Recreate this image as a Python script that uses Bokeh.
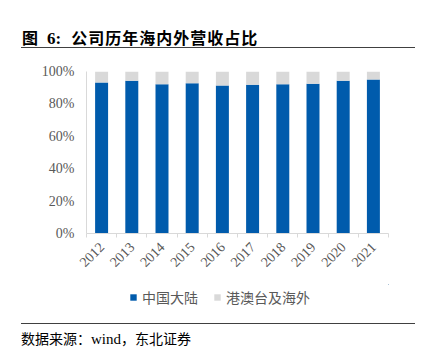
from bokeh.plotting import figure
from bokeh.models import (Range1d, FixedTicker, PrintfTickFormatter, Legend, LegendItem,
                          ColumnDataSource, Div)
from bokeh.layouts import column
from bokeh.embed import file_html
from bokeh.resources import INLINE
import math

# ---- data ----
years = ["2012", "2013", "2014", "2015", "2016", "2017", "2018", "2019", "2020", "2021"]
mainland = [93.2, 94.3, 92.2, 92.8, 91.4, 91.8, 92.2, 92.4, 94.3, 95.1]
overseas = [6.8, 5.7, 7.8, 7.2, 8.6, 8.2, 7.8, 7.6, 5.7, 4.9]
series_names = ["中国大陆", "港澳台及海外"]
y_ticks = [0, 20, 40, 60, 80, 100]
title_parts = ["图", "6:", "公司历年海内外营收占比"]
source_parts = ["数据来源：", "wind", "，东北证券"]

BLUE = "#005BAC"
GRAY = "#D9D9D9"
TXT = "#595959"
CJK = "Noto Sans CJK SC"
SERIF = "Liberation Serif"
W = 436
BL, BR = 86, 48

# ---- title strip ----
title_html = (
    f'<div style="position:relative;width:{W}px;height:50px;">'
    f'<div style="position:absolute;left:22px;top:27px;line-height:20px;font-weight:bold;color:#000;white-space:nowrap;">'
    f'<span style="font-family:\'{CJK}\';font-size:16px;">{title_parts[0]}</span>'
    f'<span style="font-family:\'{SERIF}\';font-size:17px;margin-left:9px;">{title_parts[1]}</span>'
    f'<span style="font-family:\'{CJK}\';font-size:16px;letter-spacing:1px;margin-left:10px;">{title_parts[2]}</span>'
    f'</div>'
    f'<div style="position:absolute;left:21px;top:47px;width:394px;height:0;border-top:1.5px solid #404040;"></div>'
    f'</div>'
)
title_div = Div(text=title_html, width=W, height=50, margin=(0, 0, 0, 0))

# ---- chart ----
n = len(years)
xs = [i + 0.5 for i in range(n)]
src = ColumnDataSource(dict(x=xs, mainland=mainland, overseas=overseas))

p = figure(width=W, height=234, x_range=Range1d(0, n), y_range=Range1d(0, 100),
           output_backend="svg", toolbar_location=None,
           min_border_left=BL, min_border_right=BR, min_border_top=21, min_border_bottom=51,
           margin=(0, 0, 0, 0))
p.outline_line_color = None
p.grid.visible = False

rs = p.vbar_stack(["mainland", "overseas"], x="x", width=0.43, source=src,
                  color=[BLUE, GRAY], line_color=None)

ya = p.yaxis[0]
ya.ticker = FixedTicker(ticks=y_ticks)
ya.formatter = PrintfTickFormatter(format="%d%%")
ya.axis_line_color = GRAY
ya.major_tick_line_color = None
ya.minor_tick_line_color = None
ya.major_tick_out = 0
ya.major_tick_in = 0
ya.major_label_standoff = 12
ya.major_label_text_font = SERIF
ya.major_label_text_font_size = "14px"
ya.major_label_text_color = TXT

xa = p.xaxis[0]
xa.ticker = FixedTicker(ticks=xs, minor_ticks=list(range(n + 1)))
xa.major_label_overrides = {x: y for x, y in zip(xs, years)}
xa.axis_line_color = GRAY
xa.major_tick_out = 0
xa.major_tick_in = 0
xa.major_tick_line_color = None
xa.minor_tick_out = 4
xa.minor_tick_in = 0
xa.minor_tick_line_color = GRAY
xa.major_label_orientation = math.pi / 4
xa.major_label_standoff = 7
xa.major_label_text_font = SERIF
xa.major_label_text_font_size = "14px"
xa.major_label_text_color = TXT

# ---- legend strip: a small plot holding the same series (entirely out of its view) plus the legend ----
lf = figure(width=W, height=26, x_range=Range1d(-3, -2), y_range=Range1d(-3, -2),
            output_backend="svg", toolbar_location=None,
            x_axis_location=None, y_axis_location=None,
            min_border_left=BL, min_border_right=BR, min_border_top=0, min_border_bottom=0,
            margin=(0, 0, 0, 0))
lf.outline_line_color = None
lf.grid.visible = False
lr = lf.vbar_stack(["mainland", "overseas"], x="x", width=0.43, source=src,
                   color=[BLUE, GRAY], line_color=None)
legend = Legend(items=[LegendItem(label=series_names[i], renderers=[lr[i]]) for i in range(2)],
                orientation="horizontal", location=(43, 3),
                glyph_width=8, glyph_height=8, label_standoff=5, spacing=15,
                label_height=20, label_text_baseline="middle",
                label_text_font=CJK, label_text_font_size="14px", label_text_color=TXT,
                border_line_color=None, background_fill_alpha=0, margin=0, padding=0)
lf.add_layout(legend, "center")

# ---- footer strip ----
footer_html = (
    f'<div style="position:relative;width:{W}px;height:52px;">'
    f'<div style="position:absolute;left:21px;top:13px;width:394px;height:0;border-top:1.5px solid #404040;"></div>'
    f'<div style="position:absolute;left:21px;top:18px;line-height:20px;color:#000;white-space:nowrap;font-size:14px;">'
    f'<span style="font-family:\'{CJK}\';">{source_parts[0]}</span>'
    f'<span style="font-family:\'{SERIF}\';font-size:15px;">{source_parts[1]}</span>'
    f'<span style="font-family:\'{CJK}\';">{source_parts[2]}</span>'
    f'</div></div>'
)
footer_div = Div(text=footer_html, width=W, height=52, margin=(0, 0, 0, 0))

layout = column(title_div, p, lf, footer_div, spacing=0)
open("out.html", "w").write(file_html(layout, INLINE))
